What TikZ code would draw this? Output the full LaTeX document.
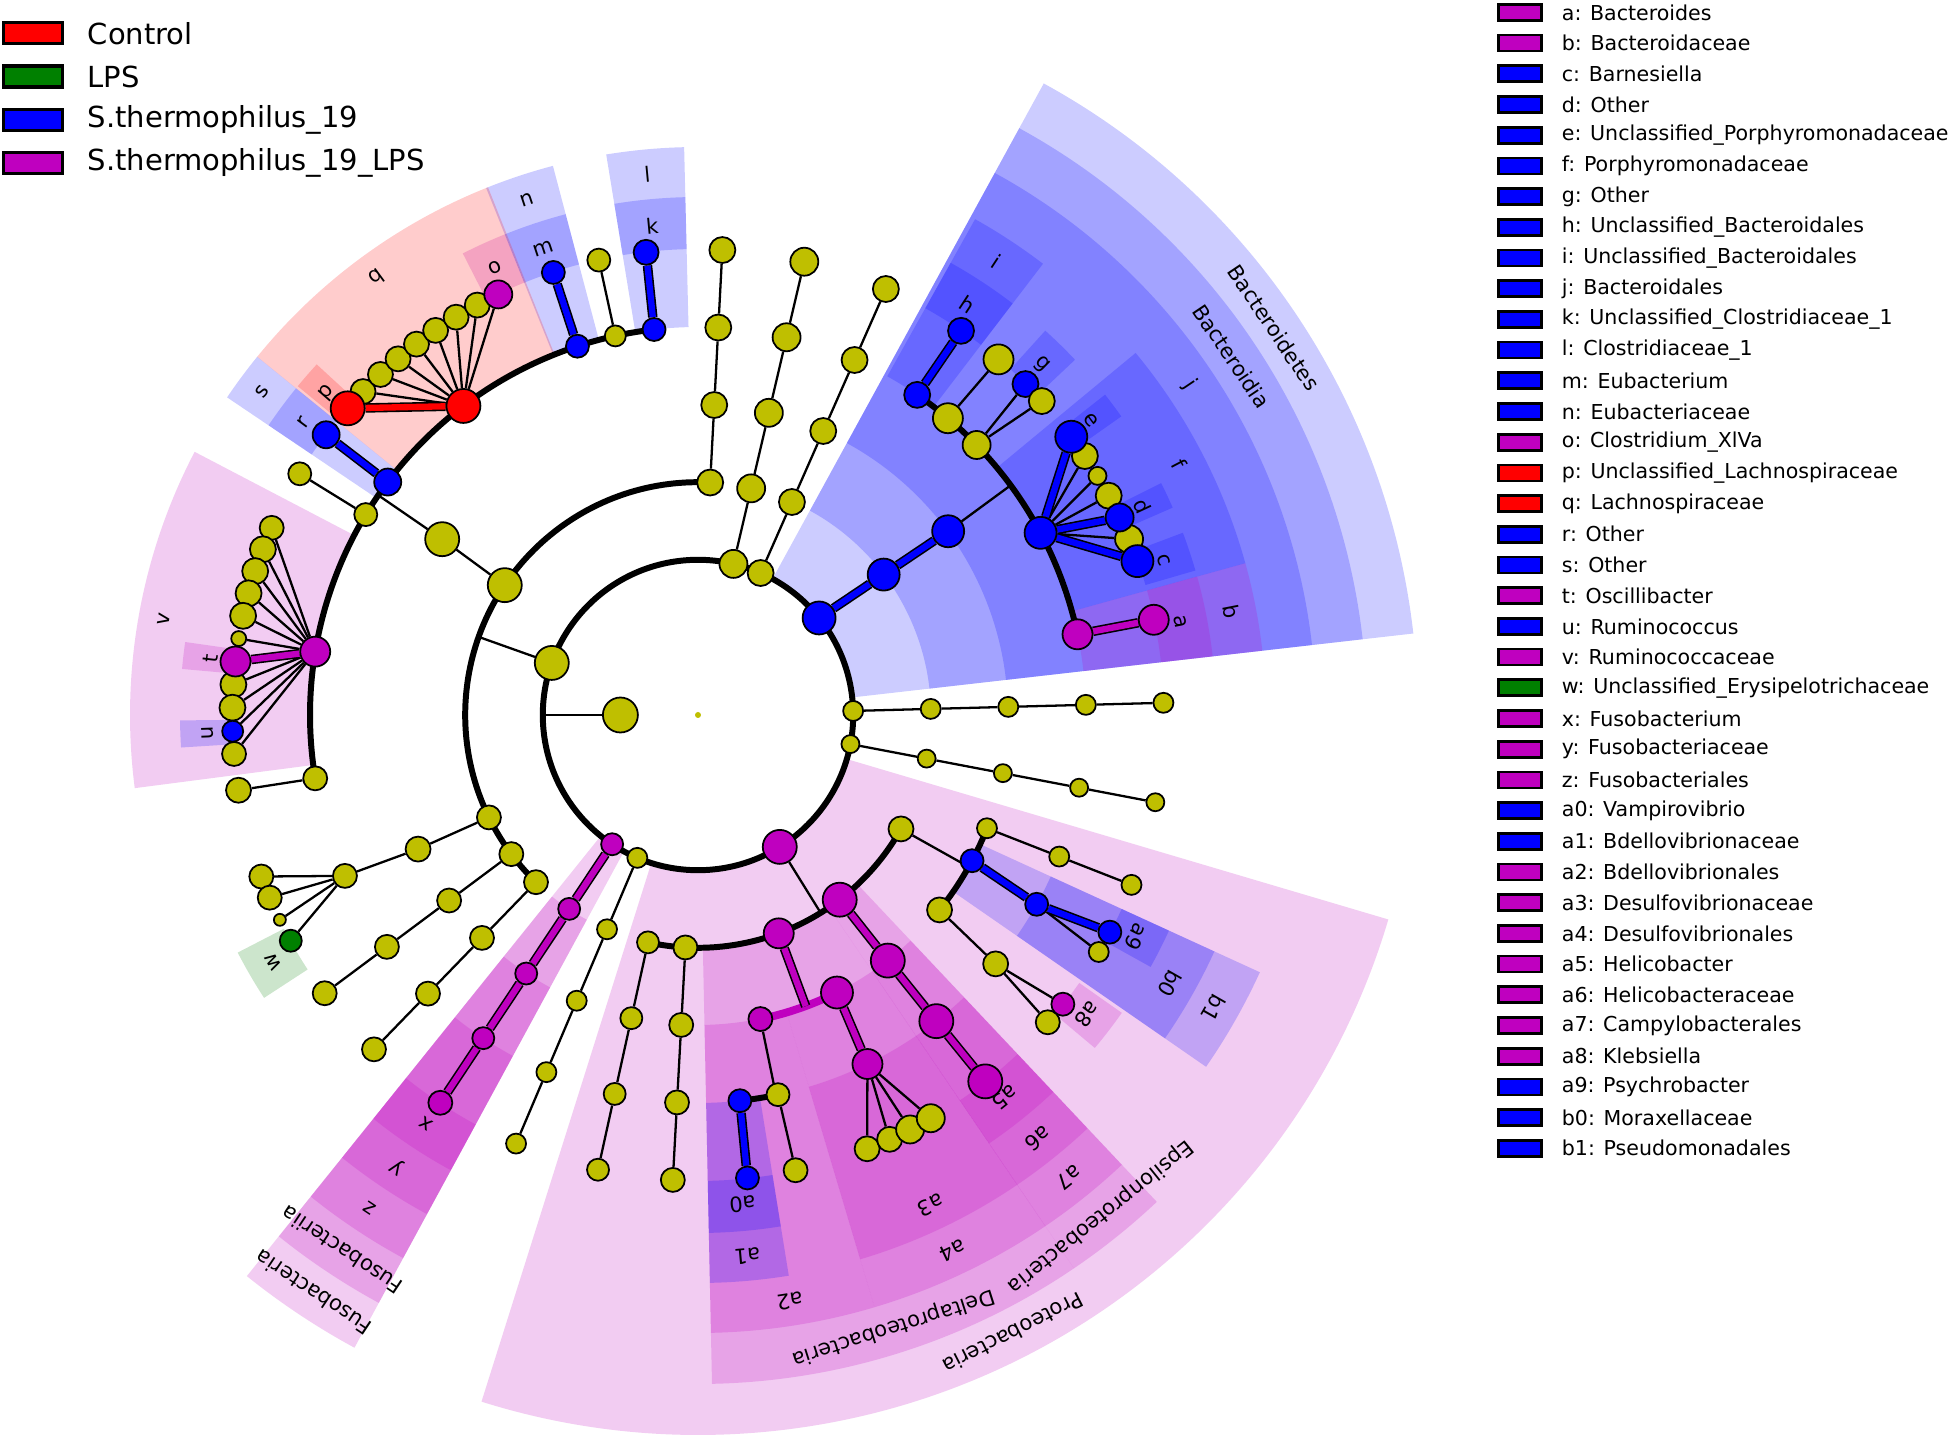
\documentclass[tikz,border=0pt]{standalone}
\usepackage{fontspec}
\setmainfont{DejaVu Sans}
\usetikzlibrary{positioning,backgrounds}

\definecolor{oli}{RGB}{191,191,0}
\definecolor{blu}{RGB}{0,0,255}
\definecolor{rd}{RGB}{255,0,0}
\definecolor{mag}{RGB}{191,0,191}
\definecolor{grn}{RGB}{0,128,0}

% shaded sector: start angle, end angle, inner radius, outer radius, colour
\newcommand{\clade}[5]{\fill[fill=#5, fill opacity=0.2] (#1:#3) arc[start angle=#1, end angle=#2, radius=#3] -- (#2:#4) arc[start angle=#2, end angle=#1, radius=#4] -- cycle;}

\begin{document}
\begin{tikzpicture}[x=0.02cm, y=0.02cm,
    nd/.style={circle, draw=black, line width=1pt, inner sep=0pt, minimum size=#1*0.04cm},
    yn/.style={nd=#1, fill=oli},
    bn/.style={nd=#1, fill=blu},
    rn/.style={nd=#1, fill=rd},
    mn/.style={nd=#1, fill=mag},
    gn/.style={nd=#1, fill=grn},
    br/.style={line width=1.3pt},
    arcl/.style={line width=3.4pt},
    cb/.style={draw=black, double=#1, double distance=3.6pt, line width=0.9pt},
    lab/.style={font=\fontsize{12}{14}\selectfont, inner sep=0pt},
    lgbox/.style={draw=black, line width=1.9pt, minimum width=1.18cm, minimum height=0.42cm, inner sep=0pt},
    lgtext/.style={font=\fontsize{16.5}{20}\selectfont, inner sep=0pt, anchor=west},
    kbox/.style={draw=black, line width=1.5pt, minimum width=0.87cm, minimum height=0.32cm, inner sep=0pt},
    ktext/.style={font=\fontsize{11.7}{14}\selectfont, inner sep=0pt, anchor=west}]

\begin{scope}[on background layer]
\fill[white] (-698,-724) rectangle (1252,715);
% clade sectors
\foreach \ta/\tb/\ri/\ro/\cc in {
  6.5/61.3/158/720/blu, 6.5/61.3/233/669/blu, 6.5/61.3/310/618/blu,
  52.6/60.8/388/568/blu, 52.6/60.8/466/518/blu, 43.3/47.9/466/518/blu,
  15.5/39.6/388/568/blu, 35.2/38.2/466/518/blu, 23.6/26.6/466/518/blu, 16.2/20.6/466/518/blu,
  6.5/15.5/388/568/mag, 6.5/15.5/466/518/mag,
  91.4/99.3/388/568/blu, 91.4/99.3/466/518/blu,
  104.8/111.9/388/568/blu, 104.8/111.9/466/518/blu,
  111.9/117.0/466/518/mag,
  111.7/140.9/388/568/rd, 137.4/140.6/466/518/rd,
  140.9/146.0/388/568/blu, 140.9/146.0/466/518/blu,
  152.4/187.4/388/568/mag, 171.9/174.9/466/518/mag,
  180.6/183.6/466/518/blu,
  207.3/213.1/466/518/grn,
  231.2/241.5/158/720/mag, 231.2/241.5/233/669/mag, 231.2/241.5/310/618/mag,
  231.2/241.5/388/568/mag, 231.2/241.5/466/518/mag,
  -107.5/-16.5/158/720/mag,
  -88.8/-55.8/233/669/mag, -88.8/-73.4/310/618/mag,
  -88.8/-80.8/388/568/blu, -88.8/-80.8/466/518/blu,
  -73.4/-55.8/310/618/mag, -73.4/-55.8/388/568/mag,
  -55.8/-46.7/233/669/mag, -55.8/-46.7/310/618/mag, -55.8/-46.7/388/568/mag, -55.8/-46.7/466/518/mag,
  -40.0/-35.1/466/518/mag,
  -34.7/-24.6/310/618/blu, -34.7/-24.6/388/568/blu, -29.1/-24.6/466/518/blu}
  {\clade{\ta}{\tb}{\ri}{\ro}{\cc}}

% clade labels
\foreach \nm/\ang/\rad/\tx in {
  lh/56.7/491/h, lg/45.6/491/g, le/36.9/491/e, ld/25.1/491/d, lc/18.4/491/c, la/11.0/491/a,
  lk/95.35/491/k, lm/108.35/491/m, lo/114.45/491/o, lp/139.0/491/p, lr/143.45/491/r,
  lt/173.4/491/t, lu/182.1/491/u, lw/210.2/491/w, lx/236.35/491/x,
  la0/-84.8/491/a0, la5/-51.25/491/a5, la8/-37.55/491/a8, la9/-26.85/491/a9,
  li/56.7/543/i, lf/27.55/543/f, lb/11.0/543/b, ll/95.35/543/l, ln/108.35/543/n,
  lq/126.3/543/q, ls/143.45/543/s, lv/169.9/543/v, ly/236.35/543/y,
  la1/-84.8/543/a1, la3/-64.6/543/a3, la6/-51.25/543/a6, lb0/-29.65/543/b0,
  lj/33.9/593/j, lz/236.35/593/z, la2/-81.1/593/a2, la4/-64.6/593/a4, la7/-51.25/593/a7, lb1/-29.65/593/b1,
  lcl1/33.9/643/Bacteroidia, lcl2/236.35/643/Fusobacteriia,
  lcl3/-72.3/643/Deltaproteobacteria, lcl4/-51.25/643/Epsilonproteobacteria,
  lph1/33.9/694/Bacteroidetes, lph2/236.35/694/Fusobacteria, lph3/-63/694/Proteobacteria}
  \node[lab, rotate=\ang-90] (\nm) at (\ang:\rad) {\tx};

% arcs joining siblings
\coordinate (ctr) at (0,0);
\draw[arcl] (ctr) circle[radius=155.2];
\coordinate (firS) at (87:232.8);
\draw[arcl] (firS) arc[start angle=87, end angle=226, radius=232.8];
\coordinate (cloS) at (96.5:388);
\draw[arcl] (cloS) arc[start angle=96.5, end angle=189.4, radius=388];
\coordinate (jS) at (12.0:388);
\draw[arcl] (jS) arc[start angle=12.0, end angle=55.6, radius=388];
\coordinate (proS) at (-102.4:232.8);
\draw[arcl] (proS) arc[start angle=-102.4, end angle=-29.3, radius=232.8];
\coordinate (delS) at (-78.4:310.4);
\draw[mag, line width=4.5pt] (delS) arc[start angle=-78.4, end angle=-63.4, radius=310.4];
\coordinate (a2S) at (-83.8:388);
\draw[arcl] (a2S) arc[start angle=-83.8, end angle=-78.1, radius=388];
\coordinate (gamS) at (-38.9:310.4);
\draw[arcl] (gamS) arc[start angle=-38.9, end angle=-21.4, radius=310.4];
\coordinate (bacJ) at (180:155.2);
\coordinate (firJ) at (160.4:232.8);
\coordinate (cloJ) at (145.5:388);
\coordinate (jJ) at (36.3:388);
\coordinate (proJ) at (-58.2:232.8);
\coordinate (delJ) at (-69.7:310.4);
\coordinate (a2J) at (-78.4:388);
\coordinate (gamJ) at (-29.3:310.4);
\end{scope}

% root, kingdom and phyla
\node[yn=3, draw=none] (root) at (ctr) {};
\node[yn=17.5] (bac) at (180:77.6) {};
\node[yn=17] (fir) at (160.4:155.2) {};
\node[bn=16.5] (bdt) at (38.7:155.2) {};
\node[mn=17] (pro) at (-58.2:155.2) {};

% unbranched chains
\foreach \nm/\ang/\st/\rr in {ca/1.5/2/10, cb/-10.8/2/9, cc/66.2/2/13, cd/76.8/2/14, ce/87/3/13,
    cf/216.7/3/12, cg/225.9/3/12, ch/247/2/10, ci/-102.4/3/11, cj/-93.1/3/12, ck/-21.4/4/10}
  \foreach \lv in {\st,...,6}
    \node[yn=\rr] (\nm\lv) at (\ang:\lv*77.6) {};

% Bacteroidetes
\node[bn=16] (bdi) at (37.1:232.8) {};
\node[bn=16] (j) at (36.3:310.4) {};
\node[bn=13] (i) at (55.6:388) {};
\node[bn=13] (h) at (55.6:465.6) {};
\node[yn=15] (bya) at (49.9:388) {};
\node[yn=15] (byc) at (49.8:465.6) {};
\node[yn=14] (byb) at (44.1:388) {};
\node[bn=13] (g) at (45.3:465.6) {};
\node[yn=13] (byd) at (42.4:465.6) {};
\node[bn=16] (f) at (28.0:388) {};
\node[yn=13] (fy1) at (33.8:465.6) {};
\node[yn=9] (fy2) at (30.9:465.6) {};
\node[yn=13] (fy3) at (28.1:465.6) {};
\node[yn=14] (fy4) at (22.2:465.6) {};
\node[bn=16] (e) at (36.7:465.6) {};
\node[bn=14] (d) at (25.1:465.6) {};
\node[bn=16] (c) at (19.3:465.6) {};
\node[mn=15] (b) at (12.0:388) {};
\node[mn=15] (a) at (11.8:465.6) {};

% Firmicutes
\node[yn=17] (cla) at (146.1:232.8) {};
\node[yn=17] (clo) at (145.5:310.4) {};
\node[bn=11.5] (l) at (96.5:388) {};
\node[bn=12.5] (k) at (96.4:465.6) {};
\node[yn=10.5] (fz1) at (102.3:388) {};
\node[yn=11.5] (fz1c) at (102.3:465.6) {};
\node[bn=11.5] (n) at (108.1:388) {};
\node[bn=11.5] (m) at (108.1:465.6) {};
\node[rn=17] (q) at (127.2:388) {};
\foreach \ang [count=\idx] in {136.0,133.0,130.1,127.2,124.3,121.3,118.3}
  \node[yn=12.5] (qy\idx) at (\ang:465.6) {};
\node[rn=17] (p) at (138.8:465.6) {};
\node[mn=14] (o) at (115.4:465.6) {};
\node[bn=13.5] (s) at (143.1:388) {};
\node[bn=13.5] (r) at (143.0:465.6) {};
\node[yn=11.5] (fz2) at (148.9:388) {};
\node[yn=11.5] (fz2c) at (148.8:465.6) {};
\node[mn=15] (v) at (170.6:388) {};
\foreach \idx/\rr in {0/12,1/13,2/13,3/13,4/13,5/7.5,7/13,8/13,10/12}
  \node[yn=\rr] (vy\idx) at (156.3+2.85*\idx:465.6) {};
\node[bn=10.5] (u) at (182.0:465.6) {};
\node[mn=15] (t) at (173.4:465.6) {};
\node[yn=12] (fz3) at (189.4:388) {};
\node[yn=12.5] (fz3c) at (189.3:465.6) {};
\node[yn=12] (er3) at (206.1:232.8) {};
\node[yn=12.5] (er4) at (205.6:310.4) {};
\node[yn=12] (er5) at (204.5:388) {};
\node[yn=12] (ey1) at (200.3:465.6) {};
\node[yn=12] (ey2) at (203.1:465.6) {};
\node[yn=6] (ey3) at (206.1:465.6) {};
\node[gn=11] (w) at (209.0:465.6) {};

% Fusobacteria
\node[mn=11] (fu2) at (236.4:155.2) {};
\node[mn=11] (fu3) at (236.4:232.8) {};
\node[mn=11] (z) at (236.4:310.4) {};
\node[mn=11] (y) at (236.4:388) {};
\node[mn=12] (x) at (236.4:465.6) {};

% Proteobacteria
\node[mn=15] (del) at (-69.7:232.8) {};
\node[mn=17] (eps) at (-52.5:232.8) {};
\node[yn=12.5] (gam) at (-29.3:232.8) {};
\node[mn=12] (a2) at (-78.4:310.4) {};
\node[mn=16] (a4) at (-63.4:310.4) {};
\node[bn=11.5] (a1) at (-83.8:388) {};
\node[yn=11.5] (dy1) at (-78.1:388) {};
\node[bn=11.5] (a0) at (-83.9:465.6) {};
\node[yn=12] (dy2) at (-77.9:465.6) {};
\node[mn=15] (a3) at (-64.1:388) {};
\foreach \ang/\rr [count=\idx from 3] in {-68.7/12.5,-65.7/12.5,-62.9/14,-60.0/14}
  \node[yn=\rr] (dy\idx) at (\ang:465.6) {};
\node[mn=17] (a7) at (-52.3:310.4) {};
\node[mn=17] (a6) at (-52.1:388) {};
\node[mn=17] (a5) at (-51.9:465.6) {};
\node[yn=12.5] (gy1) at (-38.9:310.4) {};
\node[yn=12.5] (gy2) at (-39.9:388) {};
\node[yn=12] (gy3) at (-41.3:465.6) {};
\node[mn=11.5] (a8) at (-38.4:465.6) {};
\node[bn=11.5] (b1) at (-28.0:310.4) {};
\node[bn=11.5] (b0) at (-29.2:388) {};
\node[yn=10] (gy4) at (-30.6:465.6) {};
\node[bn=11.5] (a9) at (-27.8:465.6) {};

% branches
\begin{scope}[on background layer]
\draw[br] (bac) -- (bacJ);
\draw[br] (fir) -- (firJ);
\draw[br] (cla) -- (clo);
\draw[br] (clo) -- (cloJ);
\draw[br] (j) -- (jJ);
\draw[br] (pro) -- (proJ);
\draw[br] (a2) -- (a2J);
\draw[br] (gam) -- (gamJ);
\foreach \nm/\st in {ca/2,cb/2,cc/2,cd/2,ce/3,cf/3,cg/3,ch/2,ci/3,cj/3,ck/4}
  \foreach \lv in {\st,...,5} {
    \pgfmathtruncatemacro{\nx}{\lv+1}
    \draw[br] (\nm\lv) -- (\nm\nx);
  }
\foreach \ta/\tb in {bya/byc, byb/g, byb/byd, f/fy1, f/fy2, f/fy3, f/fy4, fz1/fz1c,
    q/qy1, q/qy2, q/qy3, q/qy4, q/qy5, q/qy6, q/qy7, q/o, fz2/fz2c,
    v/vy0, v/vy1, v/vy2, v/vy3, v/vy4, v/vy5, v/vy7, v/vy8, v/u, v/vy10, fz3/fz3c,
    er3/er4, er4/er5, er5/ey1, er5/ey2, er5/ey3, er5/w,
    dy1/dy2, a3/dy3, a3/dy4, a3/dy5, a3/dy6, gy1/gy2, gy2/gy3, gy2/a8, b0/gy4}
  \draw[br] (\ta) -- (\tb);
\foreach \ta/\tb in {bdt/bdi, bdi/j, i/h, f/e, f/d, f/c, l/k, n/m, s/r, a1/a0, b1/b0, b0/a9}
  \draw[cb=blu] (\ta) -- (\tb);
\draw[cb=rd] (q) -- (p);
\foreach \ta/\tb in {b/a, v/t, fu2/fu3, fu3/z, z/y, y/x, del/delJ, a4/a3, eps/a7, a7/a6, a6/a5}
  \draw[cb=mag] (\ta) -- (\tb);
\end{scope}

% group legend
\foreach \tx/\cc [count=\idx from 0] in {Control/rd, LPS/grn, S.thermophilus\_19/blu, S.thermophilus\_19\_LPS/mag} {
  \node[lgbox, fill=\cc] (lg\idx) at (-664.7, 681.7-43.2*\idx) {};
  \node[lgtext, right=0.46cm of lg\idx] (lt\idx) {\tx};
}

% key to the letters
\foreach \tx/\cc [count=\idx from 0] in {a: Bacteroides/mag, b: Bacteroidaceae/mag, c: Barnesiella/blu,
    d: Other/blu, e: Unclassified\_Porphyromonadaceae/blu, f: Porphyromonadaceae/blu, g: Other/blu,
    h: Unclassified\_Bacteroidales/blu, i: Unclassified\_Bacteroidales/blu, j: Bacteroidales/blu,
    k: Unclassified\_Clostridiaceae\_1/blu, l: Clostridiaceae\_1/blu, m: Eubacterium/blu,
    n: Eubacteriaceae/blu, o: Clostridium\_XlVa/mag, p: Unclassified\_Lachnospiraceae/rd,
    q: Lachnospiraceae/rd, r: Other/blu, s: Other/blu, t: Oscillibacter/mag, u: Ruminococcus/blu,
    v: Ruminococcaceae/mag, w: Unclassified\_Erysipelotrichaceae/grn, x: Fusobacterium/mag,
    y: Fusobacteriaceae/mag, z: Fusobacteriales/mag, a0: Vampirovibrio/blu, a1: Bdellovibrionaceae/blu,
    a2: Bdellovibrionales/mag, a3: Desulfovibrionaceae/mag, a4: Desulfovibrionales/mag,
    a5: Helicobacter/mag, a6: Helicobacteraceae/mag, a7: Campylobacterales/mag, a8: Klebsiella/mag,
    a9: Psychrobacter/blu, b0: Moraxellaceae/blu, b1: Pseudomonadales/blu} {
  \node[kbox, fill=\cc] (kb\idx) at (822, 702.6-30.7*\idx) {};
  \node[ktext, right=0.37cm of kb\idx] (kt\idx) {\tx};
}

\pgfresetboundingbox
\useasboundingbox (-698,-724) rectangle (1252,715);
\end{tikzpicture}
\end{document}
